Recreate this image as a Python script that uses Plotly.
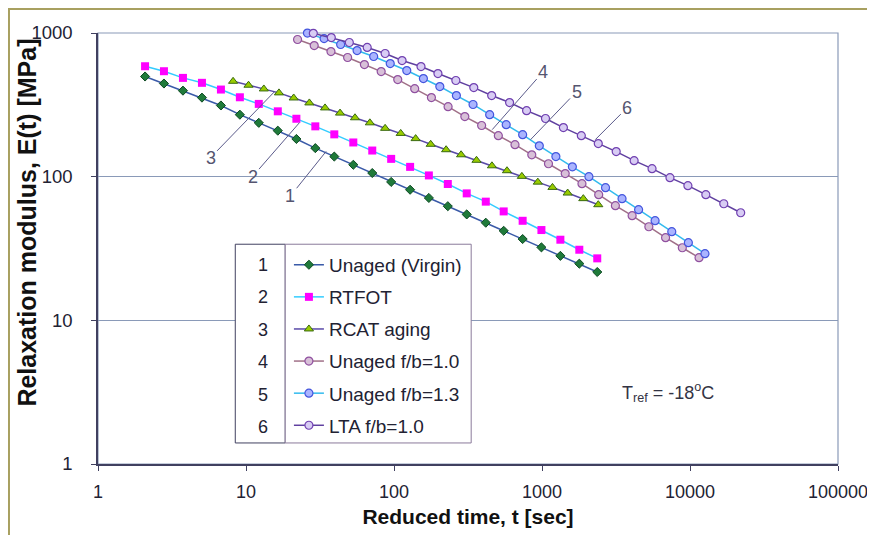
import math
import plotly.graph_objects as go

# ---------------- data ----------------
t_virgin = [2.08, 2.79, 3.75, 5.04, 6.77, 9.09, 12.2, 16.4, 21.9, 29.4, 39.5, 53.1, 71.3,
            95.7, 128.5, 172, 231, 310, 417, 551, 740, 991, 1331, 1787, 2362]
E_virgin = [498, 445, 397, 355, 313, 270, 237, 209, 183, 158, 138, 121, 106, 91.9, 81.1,
            71.1, 62.3, 54.6, 47.8, 42.0, 36.8, 32.2, 28.1, 24.8, 21.7]

t_rtfot = t_virgin
E_rtfot = [587, 542, 487, 450, 404, 357, 321, 285, 253, 224, 197, 173, 152, 133, 117, 102,
           88.9, 76.5, 67.0, 57.3, 49.3, 42.5, 36.4, 31.0, 27.0]

t_rcat = [8.18, 10.4, 13.2, 16.7, 21.0, 26.8, 34.2, 43.2, 54.5, 68.7, 87.1, 111, 140, 177,
          225, 284, 361, 459, 580, 731, 937, 1177, 1491, 1902, 2400]
E_rcat = [461, 433, 408, 383, 353, 326, 301, 277, 257, 237, 217, 200, 184, 168, 154, 142,
          130, 119, 110, 100.5, 91.6, 84.2, 76.9, 70.3, 63.8]

t_fb10 = [22.3, 28.9, 37.5, 48.6, 63.1, 81.9, 106, 138, 179, 232, 301, 391, 507, 657, 853,
          1106, 1435, 1862, 2416, 3133, 4064, 5273, 6839, 8873, 11510]
E_fb10 = [901, 818, 743, 675, 603, 539, 474, 410, 355, 307, 262, 227, 193, 167, 142, 123,
          105, 89.4, 74.9, 62.8, 53.5, 44.8, 37.6, 32.0, 27.3]

t_fb13 = [26.0, 33.7, 43.6, 56.3, 72.9, 94.3, 122, 158, 204, 264, 342, 443, 573, 740, 959,
          1241, 1604, 2075, 2687, 3474, 4495, 5810, 7530, 9750, 12620]
E_fb13 = [998, 915, 832, 755, 686, 613, 548, 482, 424, 367, 318, 270, 230, 196, 164, 138,
          117, 100, 83.8, 70.3, 58.9, 49.4, 41.4, 34.7, 29.1]

t_lta = [28.5, 37.7, 49.9, 65.9, 87.1, 113.4, 152.2, 198.1, 261.8, 346, 457, 604, 787, 1056,
         1395, 1844, 2400, 3172, 4193, 5540, 7322, 9680, 12794, 16910, 22005]
E_lta = [995, 930, 859, 793, 720, 643, 584, 522, 467, 417, 367, 328, 288, 254, 219.5, 193,
         170, 149.4, 129.3, 113.7, 98.4, 86.6, 74.9, 64.8, 56.1]

series_names = ["Unaged (Virgin)", "RTFOT", "RCAT aging", "Unaged f/b=1.0",
                "Unaged f/b=1.3", "LTA f/b=1.0"]
series_numbers = ["1", "2", "3", "4", "5", "6"]

x_tick_vals = [1, 10, 100, 1000, 10000, 100000]
x_tick_text = ["1", "10", "100", "1000", "10000", "100000"]
y_tick_vals = [1, 10, 100, 1000]
y_tick_text = ["1", "10", "100", "1000"]

x_title = "Reduced time, t [sec]"
y_title = "Relaxation modulus, E(t) [MPa]"

# leader-line label targets (point on curve)
label_t = [34.8, 23.0, 15.6, 461, 837, 2291]
label_E = [150, 238, 391, 212.5, 181, 181]

tref_text = "T<sub>ref</sub> = -18<sup>o</sup>C"

# ---------------- styles ----------------
FONT = "Arial, Liberation Sans, sans-serif"
styles = [
    dict(line=dict(color="#3a5aa8", width=1.5),
         marker=dict(symbol="diamond", size=7, color="#1f7a3a", line=dict(color="#0d4a22", width=1))),
    dict(line=dict(color="#33ccff", width=1.5),
         marker=dict(symbol="square", size=8, color="#ff00ff", line=dict(width=0))),
    dict(line=dict(color="#5a4aa8", width=1.5),
         marker=dict(symbol="triangle-up", size=8, color="#99cc00", line=dict(color="#3a6a10", width=1))),
    dict(line=dict(color="#a07088", width=1.5),
         marker=dict(symbol="circle", size=8, color="#d8c0d8", line=dict(color="#9050a0", width=1.2))),
    dict(line=dict(color="#33bbee", width=1.5),
         marker=dict(symbol="circle", size=8, color="#aab4ff", line=dict(color="#4455dd", width=1.2))),
    dict(line=dict(color="#6040a0", width=1.5),
         marker=dict(symbol="circle", size=8, color="#d8ccf4", line=dict(color="#7040b0", width=1.2))),
]

xs = [t_virgin, t_rtfot, t_rcat, t_fb10, t_fb13, t_lta]
ys = [E_virgin, E_rtfot, E_rcat, E_fb10, E_fb13, E_lta]

fig = go.Figure()
for i in range(6):
    fig.add_trace(go.Scatter(
        x=xs[i], y=ys[i], mode="lines+markers", name=series_names[i],
        legendgroup="g%d" % i, cliponaxis=False, **styles[i]))

# ---------------- layout ----------------
# (the page body adds an 8 px offset, so the figure is 8 px smaller than the window)
grid_col = "#8a9ab8"
axis_col = "#404060"

fig.update_layout(
    width=867, height=527,
    margin=dict(l=90, r=37, t=25, b=71, autoexpand=False),
    paper_bgcolor="white", plot_bgcolor="white",
    font=dict(family=FONT, color="#222233"),
    showlegend=True,
    legend=dict(x=0.258, y=0.506, xanchor="left", yanchor="top",
                bgcolor="rgba(0,0,0,0)", borderwidth=0,
                font=dict(size=19, color="#222233", family=FONT),
                tracegroupgap=4.4, itemwidth=30),
    xaxis=dict(type="log", range=[0, 5], tickvals=x_tick_vals, ticktext=x_tick_text,
               automargin=False,
               showgrid=False, zeroline=False, showline=True, linecolor=axis_col, linewidth=1.5,
               ticks="outside", ticklen=5, tickcolor=axis_col,
               tickfont=dict(size=18, color="#222233"), ticklabelstandoff=6,
               title=dict(text="<b>" + x_title + "</b>", font=dict(size=21, color="#111"),
                          standoff=8)),
    yaxis=dict(type="log", range=[0, 3], tickvals=y_tick_vals, ticktext=y_tick_text,
               automargin=False,
               showgrid=True, gridcolor=grid_col, gridwidth=1.2, zeroline=False,
               showline=True, linecolor=axis_col, linewidth=1.5,
               ticks="outside", ticklen=5, tickcolor=axis_col,
               tickfont=dict(size=18.5, color="#222233"), ticklabelstandoff=15),
)

# y-axis title (placed slightly above centre, as in the original)
fig.add_annotation(xref="paper", yref="paper", x=-0.096, y=0.56, text="<b>" + y_title + "</b>",
                   textangle=-90, showarrow=False, xanchor="center", yanchor="middle",
                   font=dict(size=25, color="#111"))

# plot-area frame (right/top) and outer chart frame
fig.add_shape(type="rect", xref="paper", yref="paper", x0=0, x1=1, y0=0, y1=1,
              line=dict(color=grid_col, width=1.2), layer="below")
fig.add_shape(type="rect", xref="paper", yref="paper", x0=-0.1203, x1=1.0486,
              y0=-0.2, y1=1.0557, line=dict(color="#a8a060", width=2), layer="below")

# legend boxes
fig.add_shape(type="rect", xref="paper", yref="paper", x0=0.1855, x1=0.2530,
              y0=0.0488, y1=0.5099, line=dict(color="#404060", width=1),
              fillcolor="white", layer="above")
fig.add_shape(type="rect", xref="paper", yref="paper", x0=0.2530, x1=0.5043,
              y0=0.0488, y1=0.5099, line=dict(color="#8a7a9a", width=1),
              fillcolor="white", layer="above")

row_y = [0.4617, 0.3865, 0.3113, 0.2362, 0.1610, 0.0858]
for num, yy in zip(series_numbers, row_y):
    fig.add_annotation(xref="paper", yref="paper", x=0.2234, y=yy, text=num,
                       xanchor="center", yanchor="middle",
                       showarrow=False, font=dict(size=18, color="#222233"))

# curve labels with leader lines
ax_off = [-36, -47, -64, 51, 46, 32]
ay_off = [45, 54, 66, -58, -48, -32]
for num, tt, ee, axo, ayo in zip(series_numbers, label_t, label_E, ax_off, ay_off):
    fig.add_annotation(x=math.log10(tt), y=math.log10(ee), text=num,
                       showarrow=True, arrowhead=0, arrowwidth=1, arrowcolor="#5a5a8a",
                       ax=axo, ay=ayo, font=dict(size=18, color="#555570"))

fig.add_annotation(xref="paper", yref="paper", x=0.7054, y=0.165, text=tref_text,
                   xanchor="left", yanchor="middle", showarrow=False,
                   font=dict(size=18, color="#333344"))

fig.write_html("out.html")
